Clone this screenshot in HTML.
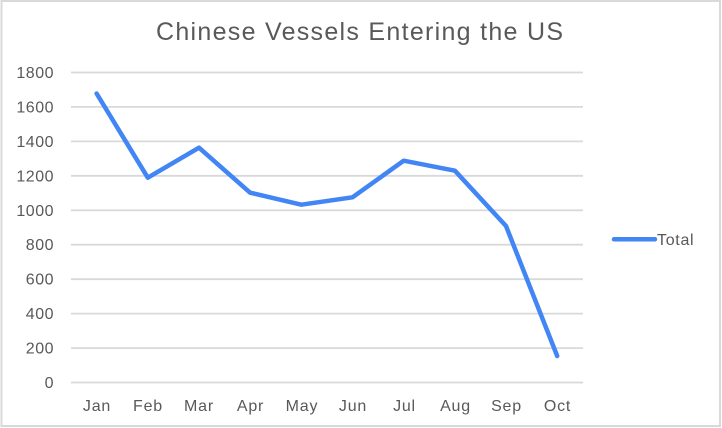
<!DOCTYPE html>
<html><head><meta charset="utf-8"><style>
html,body{margin:0;padding:0;background:#fff;}
svg{display:block;}
text{font-family:"Liberation Sans",Arial,sans-serif;fill:#595959;}
</style></head><body>
<svg width="722" height="428" viewBox="0 0 722 428" xmlns="http://www.w3.org/2000/svg">
<rect x="0" y="0" width="722" height="428" fill="#fff"/>
<rect x="1.5" y="1" width="718.5" height="425" fill="none" stroke="#d9d9d9" stroke-width="2"/>
<text x="156" y="40" font-size="25" textLength="407" lengthAdjust="spacing">Chinese Vessels Entering the US</text>
<g stroke="#d9d9d9" stroke-width="1.8">
<line x1="71" x2="583" y1="72.5" y2="72.5"/>
<line x1="71" x2="583" y1="106.9" y2="106.9"/>
<line x1="71" x2="583" y1="141.4" y2="141.4"/>
<line x1="71" x2="583" y1="175.8" y2="175.8"/>
<line x1="71" x2="583" y1="210.3" y2="210.3"/>
<line x1="71" x2="583" y1="244.7" y2="244.7"/>
<line x1="71" x2="583" y1="279.2" y2="279.2"/>
<line x1="71" x2="583" y1="313.6" y2="313.6"/>
<line x1="71" x2="583" y1="348.1" y2="348.1"/>
<line x1="71" x2="583" y1="382.5" y2="382.5"/>
</g>
<g font-size="16" text-anchor="end" letter-spacing="0.5">
<text x="54" y="78">1800</text>
<text x="54" y="112.4">1600</text>
<text x="54" y="146.9">1400</text>
<text x="54" y="181.3">1200</text>
<text x="54" y="215.8">1000</text>
<text x="54" y="250.2">800</text>
<text x="54" y="284.7">600</text>
<text x="54" y="319.1">400</text>
<text x="54" y="353.6">200</text>
<text x="54" y="388">0</text>
</g>
<g font-size="16" text-anchor="middle" letter-spacing="0.8">
<text x="97" y="411">Jan</text>
<text x="148" y="411">Feb</text>
<text x="199" y="411">Mar</text>
<text x="250.5" y="411">Apr</text>
<text x="302" y="411">May</text>
<text x="353" y="411">Jun</text>
<text x="404.5" y="411">Jul</text>
<text x="455.5" y="411">Aug</text>
<text x="506.5" y="411">Sep</text>
<text x="557.5" y="411">Oct</text>
</g>
<polyline fill="none" stroke="#4285f4" stroke-width="4.5" stroke-linejoin="round" stroke-linecap="round"
points="96.6,93.5 147.8,177.7 199,147.7 250.1,192.7 301.3,204.7 352.5,197.3 403.7,160.7 454.9,170.7 506,226 557.2,356"/>
<line x1="614" y1="239.3" x2="655" y2="239.3" stroke="#4285f4" stroke-width="4.5" stroke-linecap="round"/>
<text x="657" y="245" font-size="16" letter-spacing="0.7">Total</text>
</svg>
</body></html>
